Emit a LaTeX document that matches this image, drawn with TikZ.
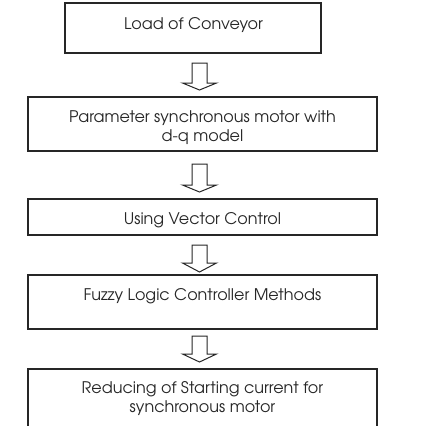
\documentclass[tikz,border=0pt]{standalone}
\usepackage{fontspec}
\setmainfont{TeX Gyre Adventor}
\begin{document}
\begin{tikzpicture}[x=1pt,y=-1pt,
  boxst/.style={draw=black!85,line width=1.5pt,inner sep=0pt},
  txt/.style={anchor=base,inner sep=0pt,font=\fontsize{16}{19}\selectfont,text=black!85},
  blockarrow/.style={draw=black!85,line width=1pt,fill=white,line join=miter}]
\useasboundingbox (0,0) rectangle (422,426);
\clip (0,0) rectangle (422,426);
% boxes
\node[boxst,minimum width=256pt,minimum height=50pt] (b1) at (193,28) {};
\node[boxst,minimum width=349pt,minimum height=54pt] (b2) at (202.5,124) {};
\node[boxst,minimum width=349pt,minimum height=36pt] (b3) at (202.5,217) {};
\node[boxst,minimum width=349pt,minimum height=54pt] (b4) at (202.5,302) {};
\coordinate (b5l) at (28,440);
\coordinate (b5r) at (377,440);
\draw[draw=black!85,line width=1.5pt] (b5l) -- (28,369) -- (377,369) -- (b5r);
% texts
\node[txt] (t1) at (193.5,29) {Load of Conveyor};
\node[txt] (t2a) at (202.5,122) {Parameter synchronous motor with};
\node[txt] (t2b) at (202.5,141) {d-q model};
\node[txt] (t3) at (202.5,224) {Using Vector Control};
\node[txt] (t4) at (202.5,300) {Fuzzy Logic Controller Methods};
\node[txt] (t5a) at (202.5,393) {Reducing of Starting current for};
\node[txt] (t5b) at (202.5,412) {synchronous motor};
% block arrows
\newcommand{\hollowarrow}[3]{%
  \draw[blockarrow] (192,#1) -- (207,#1) -- (207,#2) -- (216.5,#2) -- (199.5,#3) -- (182.5,#2) -- (192,#2) -- cycle;}
\hollowarrow{63}{83}{90}
\hollowarrow{164}{185}{192}
\hollowarrow{245}{263}{272}
\hollowarrow{336}{354}{362}
\end{tikzpicture}
\end{document}
